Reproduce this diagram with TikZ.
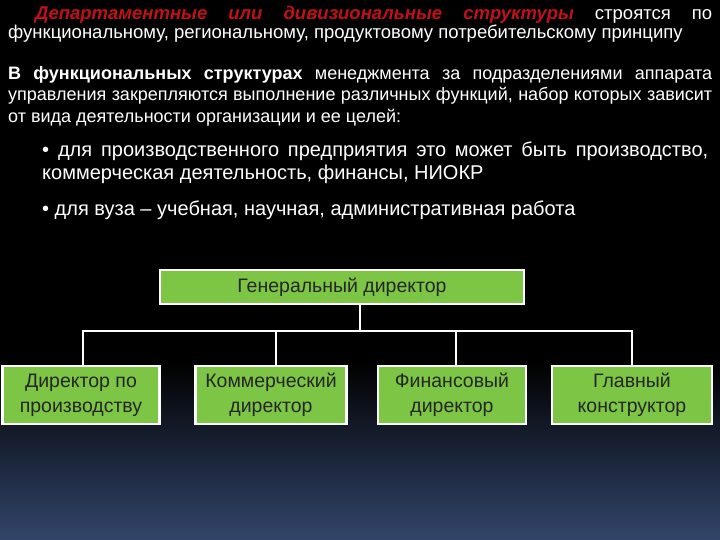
\documentclass[tikz,border=0pt]{standalone}
\usepackage{fontspec}
\setmainfont{Liberation Sans}
\usetikzlibrary{positioning}
\definecolor{boxgreen}{HTML}{7CC545}
\definecolor{navy}{HTML}{33456A}
\definecolor{redtxt}{HTML}{C0101A}
\tikzset{
  box/.style={draw=white,line width=2.5pt,fill=boxgreen,text=black!85,align=center,font=\fontsize{19.5}{25}\selectfont,inner sep=0pt},
  conn/.style={draw=white,line width=2.5pt},
  para/.style={anchor=north west,inner sep=0pt,text=white,align=justify}
}
\begin{document}
\begin{tikzpicture}[x=1pt,y=-1pt]
\useasboundingbox (0,0) rectangle (720,540);
\fill[black] (0,0) rectangle (720,360);
\shade[top color=black,bottom color=navy] (0,360) rectangle (720,540);
\node[para,text width=704pt] (p1) at (8,6) {\fontsize{18.5}{24}\selectfont\hspace*{27pt}{\color{redtxt}\bfseries\itshape Департаментные или дивизиональные структуры} строятся по\linebreak функциональному, региональному, продуктовому потребительскому принципу};
\node[para,text width=704pt] (p2) at (8,66) {\fontsize{18}{21.5}\selectfont\baselineskip=21.5pt\textbf{В функциональных структурах} менеджмента за подразделениями аппарата\linebreak управления закрепляются выполнение различных функций, набор которых зависит\linebreak от вида деятельности организации и ее целей:\par};
\node[para,text width=666pt] (p3) at (42,142) {\fontsize{20}{23}\selectfont\baselineskip=23pt • для производственного предприятия это может быть производство,\linebreak коммерческая деятельность, финансы, НИОКР\par};
\node[para,text width=666pt] (p4) at (42,201) {\fontsize{20}{24}\selectfont • для вуза – учебная, научная, административная работа};

\node[box,minimum width=364pt,minimum height=34pt] (gd) at (342,287) {Генеральный директор};
\node[box,minimum width=157pt,minimum height=58pt] (b1) at (81,395) {Директор по\\производству};
\node[box,minimum width=151pt,minimum height=58pt] (b2) at (271,395) {Коммерческий\\директор};
\node[box,minimum width=148pt,minimum height=58pt] (b3) at (452,395) {Финансовый\\директор};
\node[box,minimum width=160pt,minimum height=58pt] (b4) at (632,395) {Главный\\конструктор};
\coordinate (j) at (360,331);
\draw[conn] (gd.south -| j) -- (j);
\draw[conn] (b1.north -| 83,0) |- (j);
\draw[conn] (b4.north -| 632,0) |- (j);
\draw[conn] (b2.north -| 276,0) -- ++(0,-35);
\draw[conn] (b3.north -| 456,0) -- ++(0,-35);
\end{tikzpicture}
\end{document}
